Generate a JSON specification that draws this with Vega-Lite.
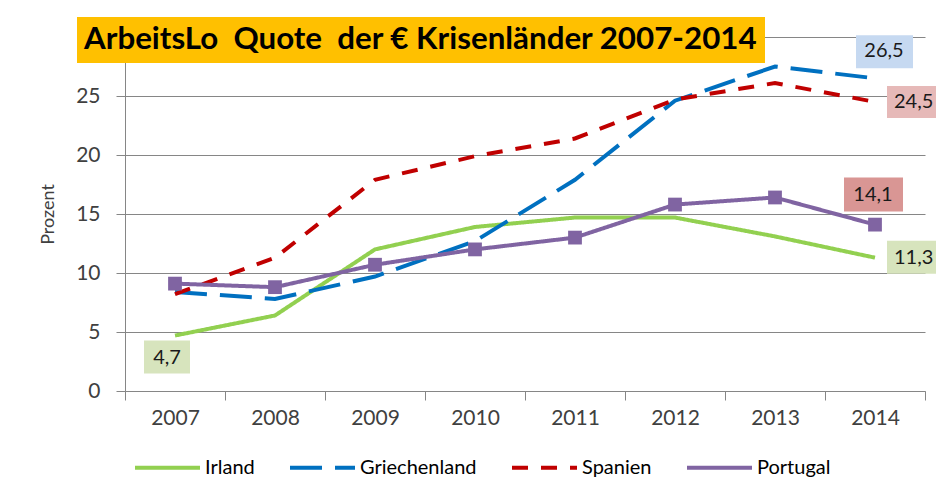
{
  "$schema": "https://vega.github.io/schema/vega-lite/v6.json",
  "width": 800,
  "height": 354,
  "autosize": {"type": "none"},
  "padding": {"left": 125, "top": 37, "right": 11, "bottom": 101},
  "background": "white",
  "config": {
    "locale": {"number": {"decimal": ",", "thousands": ".", "grouping": [3], "currency": ["", " €"]}},
    "font": "Lato",
    "view": {"stroke": null},
    "axis": {"domainColor": "#868686", "tickColor": "#868686", "gridColor": "#868686", "labelColor": "#404040", "titleColor": "#404040", "labelFont": "Lato", "titleFont": "Lato"}
  },
  "data": {
    "values": [
      {"Land": "Irland", "Jahr": "2007", "Quote": 4.7},
      {"Land": "Irland", "Jahr": "2008", "Quote": 6.4},
      {"Land": "Irland", "Jahr": "2009", "Quote": 12.0},
      {"Land": "Irland", "Jahr": "2010", "Quote": 13.9},
      {"Land": "Irland", "Jahr": "2011", "Quote": 14.7},
      {"Land": "Irland", "Jahr": "2012", "Quote": 14.7},
      {"Land": "Irland", "Jahr": "2013", "Quote": 13.1},
      {"Land": "Irland", "Jahr": "2014", "Quote": 11.3},
      {"Land": "Griechenland", "Jahr": "2007", "Quote": 8.4},
      {"Land": "Griechenland", "Jahr": "2008", "Quote": 7.8},
      {"Land": "Griechenland", "Jahr": "2009", "Quote": 9.7},
      {"Land": "Griechenland", "Jahr": "2010", "Quote": 12.7},
      {"Land": "Griechenland", "Jahr": "2011", "Quote": 17.9},
      {"Land": "Griechenland", "Jahr": "2012", "Quote": 24.6},
      {"Land": "Griechenland", "Jahr": "2013", "Quote": 27.5},
      {"Land": "Griechenland", "Jahr": "2014", "Quote": 26.5},
      {"Land": "Spanien", "Jahr": "2007", "Quote": 8.2},
      {"Land": "Spanien", "Jahr": "2008", "Quote": 11.3},
      {"Land": "Spanien", "Jahr": "2009", "Quote": 17.9},
      {"Land": "Spanien", "Jahr": "2010", "Quote": 19.9},
      {"Land": "Spanien", "Jahr": "2011", "Quote": 21.4},
      {"Land": "Spanien", "Jahr": "2012", "Quote": 24.7},
      {"Land": "Spanien", "Jahr": "2013", "Quote": 26.1},
      {"Land": "Spanien", "Jahr": "2014", "Quote": 24.5},
      {"Land": "Portugal", "Jahr": "2007", "Quote": 9.1},
      {"Land": "Portugal", "Jahr": "2008", "Quote": 8.8},
      {"Land": "Portugal", "Jahr": "2009", "Quote": 10.7},
      {"Land": "Portugal", "Jahr": "2010", "Quote": 12.0},
      {"Land": "Portugal", "Jahr": "2011", "Quote": 13.0},
      {"Land": "Portugal", "Jahr": "2012", "Quote": 15.8},
      {"Land": "Portugal", "Jahr": "2013", "Quote": 16.4},
      {"Land": "Portugal", "Jahr": "2014", "Quote": 14.1}
    ]
  },
  "encoding": {
    "x": {
      "field": "Jahr",
      "type": "ordinal",
      "bandPosition": 0.5,
      "scale": {"type": "band", "paddingInner": 0, "paddingOuter": 0},
      "axis": {"title": null, "tickBand": "extent", "labelAngle": 0, "tickSize": 9, "labelFontSize": 21, "labelPadding": 7, "grid": false, "domainWidth": 1}
    },
    "y": {
      "field": "Quote",
      "type": "quantitative",
      "scale": {"domain": [0, 30], "nice": false},
      "axis": {"title": "Prozent", "values": [0, 5, 10, 15, 20, 25, 30], "labelExpr": "datum.value == 30 ? '' : datum.label", "grid": true, "tickSize": 9, "labelPadding": 16, "labelFontSize": 21, "titleFontSize": 18, "titleFontWeight": "normal", "titlePadding": 18}
    }
  },
  "layer": [
    {
      "mark": {"type": "line", "strokeWidth": 4, "strokeCap": "butt"},
      "encoding": {
        "color": {
          "field": "Land", "type": "nominal",
          "scale": {"domain": ["Irland", "Griechenland", "Spanien", "Portugal"], "range": ["#92D050", "#0070C0", "#C00000", "#8064A2"]},
          "legend": {"orient": "none", "legendX": 8, "legendY": 396, "direction": "horizontal", "title": null, "symbolType": "stroke", "symbolSize": 4225, "symbolStrokeWidth": 4, "labelFontSize": 20, "labelOffset": 3, "columnPadding": 27, "labelColor": "#000000", "padding": 0}
        },
        "strokeDash": {
          "field": "Land", "type": "nominal",
          "scale": {"domain": ["Irland", "Griechenland", "Spanien", "Portugal"], "range": [[1, 0], [32, 13], [16, 13], [1, 0]]},
          "legend": {"orient": "none", "legendX": 8, "legendY": 396, "direction": "horizontal", "title": null, "symbolType": "stroke", "symbolSize": 4225, "symbolStrokeWidth": 4, "labelFontSize": 20, "labelOffset": 3, "columnPadding": 27, "labelColor": "#000000", "padding": 0}
        }
      }
    },
    {
      "transform": [{"filter": "datum.Land == 'Portugal'"}],
      "mark": {"type": "point", "shape": "square", "size": 190, "filled": true, "opacity": 1, "color": "#8064A2"},
      "encoding": {}
    },
    {
      "encoding": {
        "fill": {
          "field": "Land", "type": "nominal",
          "scale": {"domain": ["Griechenland", "Spanien", "Portugal", "Irland"], "range": ["#C6D9F1", "#E6B9B8", "#D99694", "#D7E4BD"]},
          "legend": {"orient": "none", "legendX": -48, "legendY": -20, "title": "ArbeitsLo\u00a0 Quote\u00a0 der € Krisenländer 2007-2014", "titleFontSize": 31.3, "titleFontWeight": "bold", "titleColor": "#000000", "titleFont": "Lato", "titleLimit": 2000, "titlePadding": 0, "fillColor": "#FFC000", "padding": 7, "values": []}
        }
      },
      "layer": [
        {
          "transform": [{"filter": "datum.Land == 'Griechenland' && datum.Jahr == '2014'"}],
          "mark": {"type": "point", "shape": "M-19,-43H38V-10H-19Z", "size": 4, "filled": true, "opacity": 1, "strokeWidth": 0}
        },
        {
          "transform": [{"filter": "datum.Land == 'Spanien' && datum.Jahr == '2014'"}],
          "mark": {"type": "point", "shape": "M12,-16H75V16H12Z", "size": 4, "filled": true, "opacity": 1, "strokeWidth": 0}
        },
        {
          "transform": [{"filter": "datum.Land == 'Portugal' && datum.Jahr == '2014'"}],
          "mark": {"type": "point", "shape": "M-31,-47H28V-13H-31Z", "size": 4, "filled": true, "opacity": 1, "strokeWidth": 0}
        },
        {
          "transform": [{"filter": "datum.Land == 'Irland' && datum.Jahr == '2014'"}],
          "mark": {"type": "point", "shape": "M12,-17H75V16H12Z", "size": 4, "filled": true, "opacity": 1, "strokeWidth": 0}
        },
        {
          "transform": [{"filter": "datum.Land == 'Irland' && datum.Jahr == '2007'"}],
          "mark": {"type": "point", "shape": "M-31,5H15V38H-31Z", "size": 4, "filled": true, "opacity": 1, "strokeWidth": 0}
        }
      ]
    },
    {
      "encoding": {
        "text": {"field": "Quote", "type": "quantitative", "format": ".1f"}
      },
      "layer": [
        {
          "transform": [{"filter": "datum.Land == 'Griechenland' && datum.Jahr == '2014'"}],
          "mark": {"type": "text", "align": "center", "baseline": "middle", "dx": 9, "dy": -27, "fontSize": 20, "color": "#1a1a1a"}
        },
        {
          "transform": [{"filter": "datum.Land == 'Spanien' && datum.Jahr == '2014'"}],
          "mark": {"type": "text", "align": "left", "baseline": "middle", "dx": 19, "dy": 0, "fontSize": 20, "color": "#1a1a1a"}
        },
        {
          "transform": [{"filter": "datum.Land == 'Portugal' && datum.Jahr == '2014'"}],
          "mark": {"type": "text", "align": "center", "baseline": "middle", "dx": -2, "dy": -30, "fontSize": 20, "color": "#1a1a1a"}
        },
        {
          "transform": [{"filter": "datum.Land == 'Irland' && datum.Jahr == '2014'"}],
          "mark": {"type": "text", "align": "left", "baseline": "middle", "dx": 19, "dy": 0, "fontSize": 20, "color": "#1a1a1a"}
        },
        {
          "transform": [{"filter": "datum.Land == 'Irland' && datum.Jahr == '2007'"}],
          "mark": {"type": "text", "align": "center", "baseline": "middle", "dx": -8, "dy": 22, "fontSize": 20, "color": "#1a1a1a"}
        }
      ]
    }
  ]
}
